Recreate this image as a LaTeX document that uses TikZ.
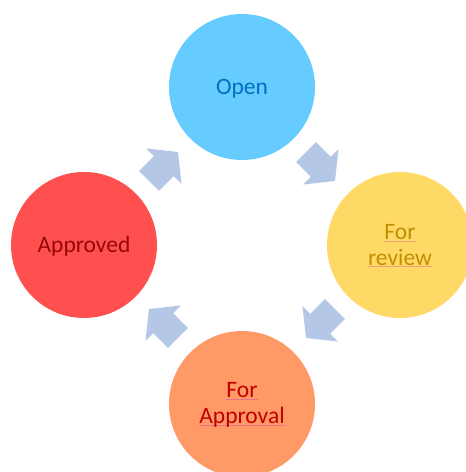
\documentclass[tikz,border=0pt]{standalone}
\usepackage{fontspec}
\setmainfont{Carlito}
\definecolor{openfill}{HTML}{66CCFF}
\definecolor{opentext}{HTML}{0070C0}
\definecolor{revfill}{HTML}{FFD966}
\definecolor{revtext}{HTML}{BF9000}
\definecolor{revul}{HTML}{F4A07A}
\definecolor{aprfill}{HTML}{FF9966}
\definecolor{aprtext}{HTML}{C00000}
\definecolor{aprul}{HTML}{E8708A}
\definecolor{apdfill}{HTML}{FF5050}
\definecolor{apdtext}{HTML}{960808}
\definecolor{arrowfill}{HTML}{B4C7E7}
\newlength\ulw
\newcommand\colul[2]{\settowidth\ulw{#2}\rlap{\textcolor{#1}{\rule[-2pt]{\ulw}{0.8pt}}}#2}
\tikzset{
  stage/.style={circle, minimum size=146pt, inner sep=0pt, draw=none},
  stagelabel/.style={inner sep=0pt, align=center, font=\fontsize{23.5}{25.5}\selectfont},
  blockarrow/.style={fill=arrowfill, draw=none}
}
\newcommand\blockarrowpath{(-20.5,-14) -- (0.5,-14) -- (0.5,-25) -- (20.5,0) -- (0.5,25) -- (0.5,14) -- (-20.5,14) -- cycle}
\begin{document}
\begin{tikzpicture}[x=1pt,y=-1pt]
\useasboundingbox (0,0) rectangle (466,472);
\clip (0,0) rectangle (466,472);
\node[stage, fill=openfill] (open) at (242,87) {};
\node[stage, fill=revfill] (review) at (400,245) {};
\node[stage, fill=aprfill] (forapproval) at (242,404) {};
\node[stage, fill=apdfill] (approved) at (84,245) {};
\node[stagelabel, text=opentext] (openlbl) at ([yshift=-2pt]open.center) {Open};
\node[stagelabel, text=revtext] (reviewlbl) at ([yshift=-1pt]review.center) {\colul{revul}{For}\\\colul{revul}{review}};
\node[stagelabel, text=aprtext] (forapprovallbl) at ([yshift=-1pt]forapproval.center) {\colul{aprul}{For}\\\colul{aprul}{Approval}};
\node[stagelabel, text=apdtext] (approvedlbl) at ([yshift=-1.5pt]approved.center) {Approved};
\fill[blockarrow, shift={(320.5,166.5)}, rotate=-45] \blockarrowpath;
\fill[blockarrow, shift={(320.5,323.5)}, rotate=-135] \blockarrowpath;
\fill[blockarrow, shift={(163.5,323.5)}, rotate=135] \blockarrowpath;
\fill[blockarrow, shift={(163.5,166.5)}, rotate=45] \blockarrowpath;
\end{tikzpicture}
\end{document}
